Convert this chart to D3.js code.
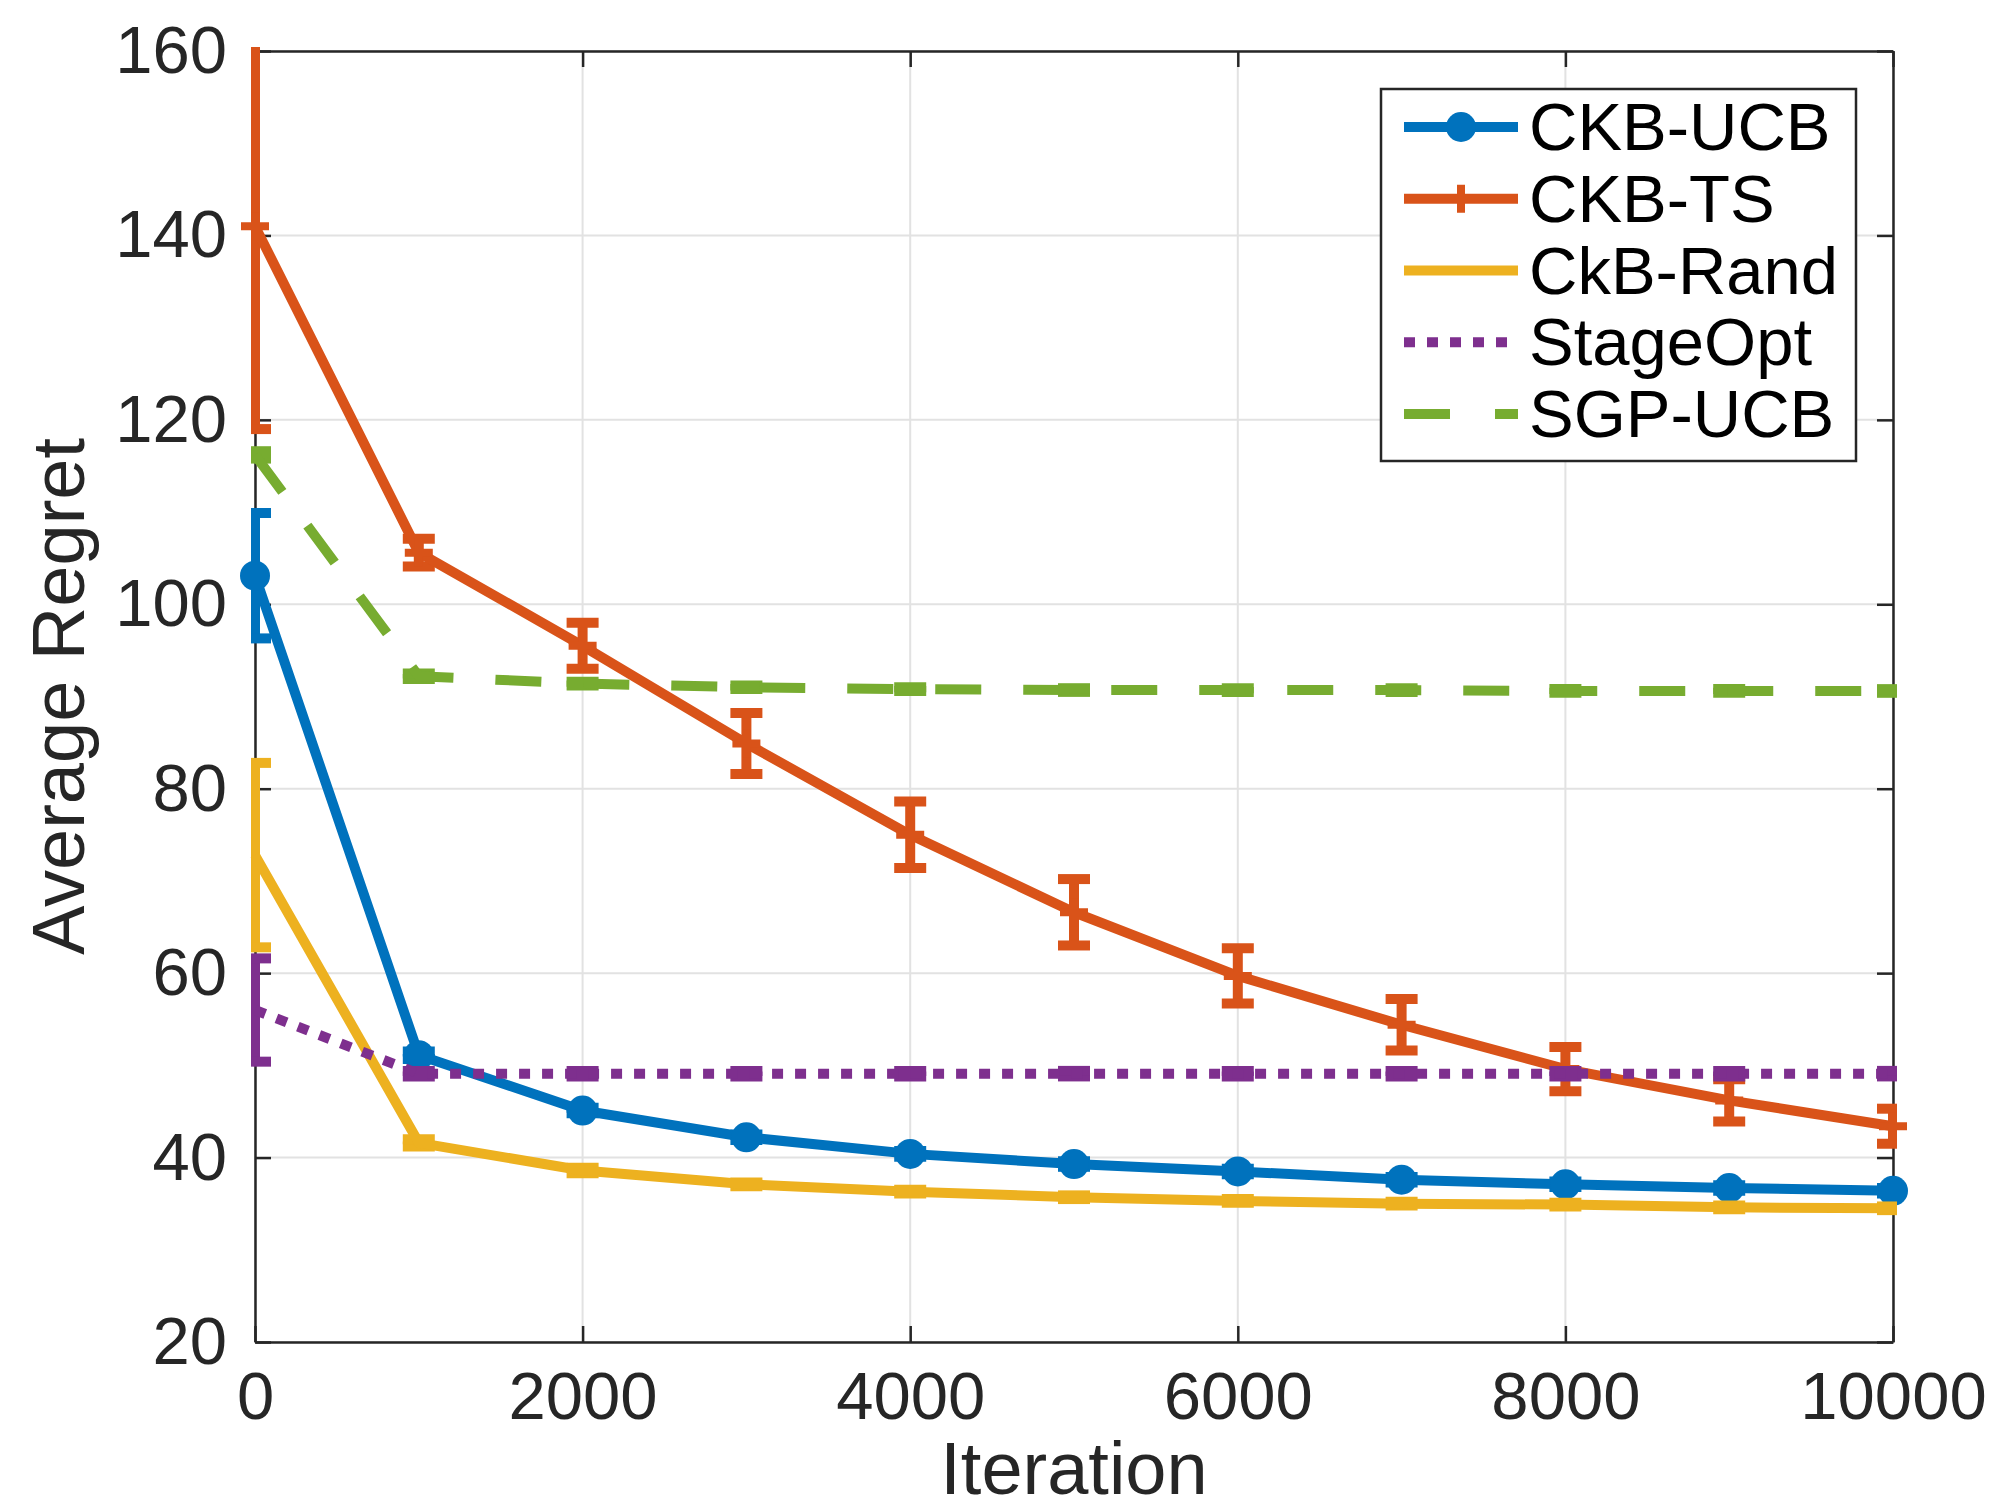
<!DOCTYPE html>
<html>
<head>
<meta charset="utf-8">
<script src="https://cdn.jsdelivr.net/npm/d3@7/dist/d3.min.js"></script>
<style>
  body { margin: 0; background: #fff; }
  text { font-family: "Liberation Sans", Arial, Helvetica, sans-serif; }
</style>
</head>
<body>
<svg id="chart" width="1993" height="1510"></svg>
<script>
// data
const iterations = [0, 1000, 2000, 3000, 4000, 5000, 6000, 7000, 8000, 9000, 10000];

const ucbMean   = [103.1, 51.1, 45.1, 42.2, 40.4, 39.3, 38.5, 37.6, 37.1, 36.7, 36.4];
const ucbErr    = [6.8, 0.4, 0.3, 0.3, 0.3, 0.3, 0.3, 0.3, 0.3, 0.3, 0.3];
const tsMean    = [141.0, 105.6, 95.5, 84.9, 75.0, 66.6, 59.7, 54.4, 49.6, 46.2, 43.4];
const tsErr     = [22.0, 1.5, 2.5, 3.3, 3.6, 3.6, 3.0, 2.8, 2.4, 2.3, 1.9];
const randMean  = [72.8, 41.6, 38.6, 37.1, 36.3, 35.7, 35.3, 35.0, 34.9, 34.6, 34.5];
const randErr   = [10.0, 0.4, 0.3, 0.2, 0.2, 0.2, 0.2, 0.2, 0.2, 0.2, 0.2];
const stageMean = [56.0, 49.1, 49.1, 49.1, 49.1, 49.1, 49.1, 49.1, 49.1, 49.1, 49.1];
const stageErr  = [5.6, 0.3, 0.3, 0.3, 0.3, 0.3, 0.3, 0.3, 0.3, 0.3, 0.3];
const sgpMean   = [116.2, 92.2, 91.4, 91.0, 90.8, 90.7, 90.7, 90.7, 90.6, 90.6, 90.6];
const sgpErr    = [0.4, 0.3, 0.2, 0.2, 0.2, 0.2, 0.2, 0.2, 0.2, 0.2, 0.2];

const seriesNames = ["CKB-UCB", "CKB-TS", "CkB-Rand", "StageOpt", "SGP-UCB"];
const xTicks = [0, 2000, 4000, 6000, 8000, 10000];
const yTicks = [20, 40, 60, 80, 100, 120, 140, 160];

const series = [
  { name: seriesNames[0], mean: ucbMean, err: ucbErr, color: "#0072BD", dash: null, marker: "circle" },
  { name: seriesNames[1], mean: tsMean, err: tsErr, color: "#D95319", dash: null, marker: "plus" },
  { name: seriesNames[2], mean: randMean, err: randErr, color: "#EDB120", dash: null, marker: null },
  { name: seriesNames[3], mean: stageMean, err: stageErr, color: "#7E2F8E", dash: "11,12", marker: null },
  { name: seriesNames[4], mean: sgpMean, err: sgpErr, color: "#77AC30", dash: "46,42", marker: null }
];

const margin = { top: 51, right: 100, bottom: 168, left: 255 };
const W = 1993, H = 1510;
const lw = 10;
const capHalf = 16;
const tickLen = 16;

const svg = d3.select("#chart");

const x = d3.scaleLinear().domain([0, 10000]).range([margin.left, W - margin.right]);
const y = d3.scaleLinear().domain([20, 160]).range([H - margin.bottom, margin.top]);

const x0 = x.range()[0], x1 = x.range()[1];
const yb = y.range()[0], yt = y.range()[1];

svg.append("defs").append("clipPath").attr("id", "plotClip")
  .append("rect")
  .attr("x", x0 - 4).attr("y", yt - 4)
  .attr("width", x1 - x0 + 8).attr("height", yb - yt + 8);

// grid
const grid = svg.append("g").attr("stroke", "#e2e2e2").attr("stroke-width", 2);
grid.selectAll(".gx").data(xTicks).join("line")
  .attr("x1", d => x(d)).attr("x2", d => x(d)).attr("y1", yt).attr("y2", yb);
grid.selectAll(".gy").data(yTicks).join("line")
  .attr("y1", d => y(d)).attr("y2", d => y(d)).attr("x1", x0).attr("x2", x1);

// axes (under the data, like matlab's default layer)
const axisColor = "#262626";
const axB = svg.append("g").attr("transform", `translate(0,${yb})`)
  .call(d3.axisBottom(x).tickValues(xTicks).tickSizeInner(-tickLen).tickSizeOuter(0).tickPadding(29).tickFormat(d3.format("d")));
const axT = svg.append("g").attr("transform", `translate(0,${yt})`)
  .call(d3.axisTop(x).tickValues(xTicks).tickSizeInner(-tickLen).tickSizeOuter(0).tickFormat(""));
const axL = svg.append("g").attr("transform", `translate(${x0},0)`)
  .call(d3.axisLeft(y).tickValues(yTicks).tickSizeInner(-tickLen).tickSizeOuter(0).tickPadding(28));
const axR = svg.append("g").attr("transform", `translate(${x1},0)`)
  .call(d3.axisRight(y).tickValues(yTicks).tickSizeInner(-tickLen).tickSizeOuter(0).tickFormat(""));

[axB, axT, axL, axR].forEach(g => {
  g.select(".domain").attr("stroke", axisColor).attr("stroke-width", 2.5);
  g.selectAll(".tick line").attr("stroke", axisColor).attr("stroke-width", 2.5);
  g.selectAll("text").attr("fill", axisColor).attr("font-size", 67)
    .attr("font-family", "'Liberation Sans', Arial, sans-serif");
});
axB.selectAll("text").attr("dy", "0.72em");

// axis titles
svg.append("text")
  .attr("x", (x0 + x1) / 2).attr("y", 1494)
  .attr("text-anchor", "middle").attr("font-size", 74).attr("fill", axisColor)
  .text("Iteration");
svg.append("text")
  .attr("transform", `translate(84,${(yt + yb) / 2}) rotate(-90)`)
  .attr("text-anchor", "middle").attr("font-size", 74).attr("fill", axisColor)
  .text("Average Regret");

// series
const line = d3.line().x((d, i) => x(iterations[i])).y(d => y(d));

series.forEach(s => {
  const g = svg.append("g");
  // error bars (clipped to the axes)
  const eb = g.append("g").attr("clip-path", "url(#plotClip)")
    .attr("stroke", s.color).attr("stroke-width", lw).attr("fill", "none");
  s.mean.forEach((m, i) => {
    const cx = x(iterations[i]);
    const lo = y(m - s.err[i]), hi = y(m + s.err[i]);
    eb.append("line").attr("x1", cx).attr("x2", cx).attr("y1", lo).attr("y2", hi);
    eb.append("line").attr("x1", cx - capHalf).attr("x2", cx + capHalf).attr("y1", lo).attr("y2", lo);
    eb.append("line").attr("x1", cx - capHalf).attr("x2", cx + capHalf).attr("y1", hi).attr("y2", hi);
  });
  // line
  g.append("path")
    .datum(s.mean)
    .attr("d", line)
    .attr("fill", "none")
    .attr("stroke", s.color)
    .attr("stroke-width", lw)
    .attr("stroke-linejoin", "round")
    .attr("stroke-dasharray", s.dash);
  // markers
  if (s.marker === "circle") {
    g.selectAll("circle").data(s.mean).join("circle")
      .attr("cx", (d, i) => x(iterations[i])).attr("cy", d => y(d))
      .attr("r", 15).attr("fill", s.color);
  } else if (s.marker === "plus") {
    g.selectAll("path.plus").data(s.mean).join("path")
      .attr("class", "plus")
      .attr("d", (d, i) => {
        const cx = x(iterations[i]), cy = y(d);
        return `M${cx - 14},${cy}H${cx + 14}M${cx},${cy - 14}V${cy + 14}`;
      })
      .attr("stroke", s.color).attr("stroke-width", lw - 2).attr("fill", "none");
  }
});

// legend
const lg = svg.append("g");
lg.append("rect")
  .attr("x", 1381).attr("y", 89).attr("width", 475).attr("height", 372)
  .attr("fill", "#fff").attr("stroke", axisColor).attr("stroke-width", 2.5);
const rowY = d3.scalePoint().domain(seriesNames).range([127, 414]);
series.forEach(s => {
  const cy = rowY(s.name);
  lg.append("line")
    .attr("x1", 1404).attr("x2", 1518).attr("y1", cy).attr("y2", cy)
    .attr("stroke", s.color).attr("stroke-width", lw)
    .attr("stroke-dasharray", s.name === "SGP-UCB" ? "46,45" : s.dash);
  if (s.marker === "circle") {
    lg.append("circle").attr("cx", 1461).attr("cy", cy).attr("r", 15).attr("fill", s.color);
  } else if (s.marker === "plus") {
    lg.append("path").attr("d", `M1447,${cy}H1475M1461,${cy - 14}V${cy + 14}`)
      .attr("stroke", s.color).attr("stroke-width", lw - 2);
  }
  lg.append("text")
    .attr("x", 1529).attr("y", cy + 23)
    .attr("font-size", 67).attr("fill", "#000")
    .text(s.name);
});
</script>
</body>
</html>
